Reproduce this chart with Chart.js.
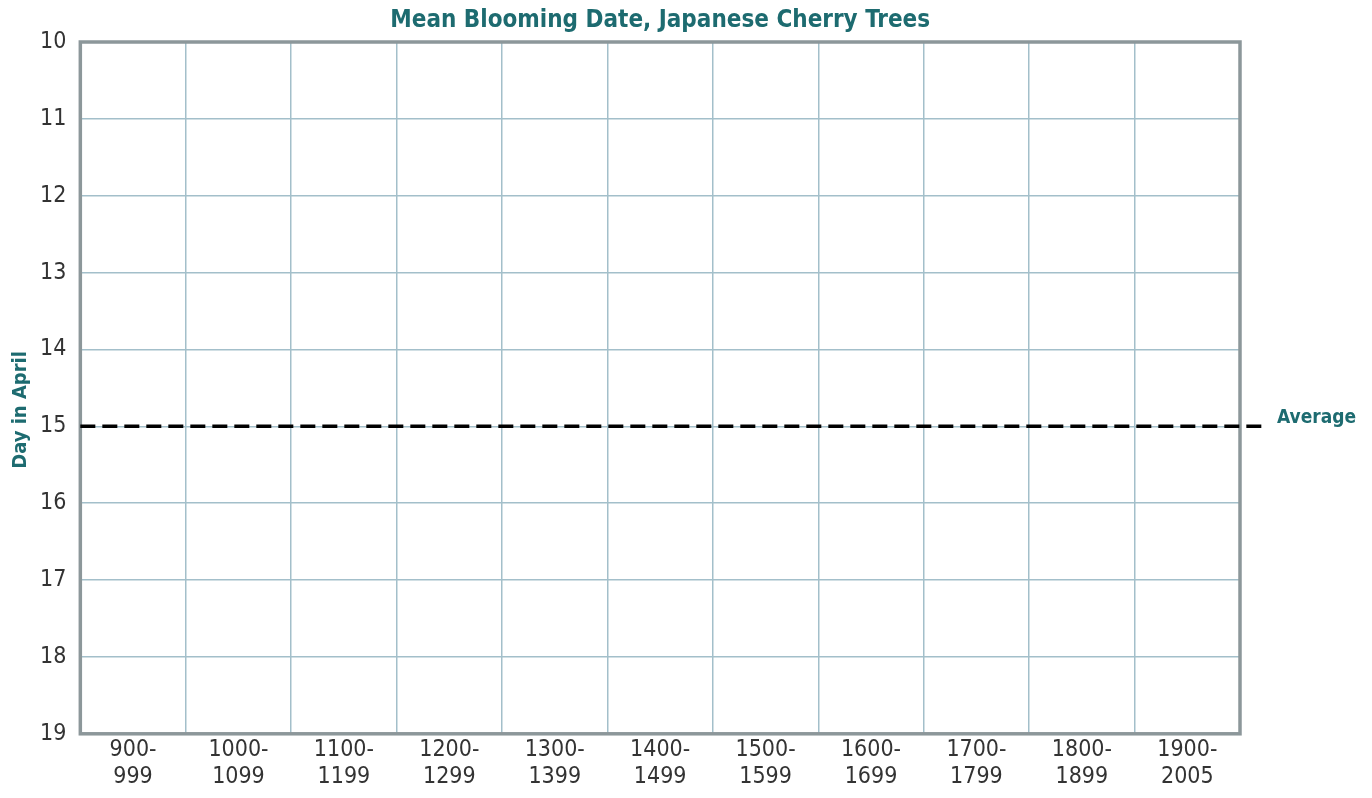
<!DOCTYPE html>
<html lang="en">
<head>
  <meta charset="UTF-8" />
  <title>Mean Blooming Date, Japanese Cherry Trees</title>
  <script src="https://cdn.jsdelivr.net/npm/chart.js"></script>
  <style>
    body, html {
      margin: 0;
      padding: 0;
      background: #fff;
    }
    .chart-box {
      width: 1372px;
      height: 798px;
    }
  </style>
</head>
<body>
  <div class="chart-box">
    <canvas id="bloomChart" width="1372" height="798"></canvas>
  </div>

  <script>
    // Century bands (two-line labels)
    const periods = [
      ['900-', '999'], ['1000-', '1099'], ['1100-', '1199'], ['1200-', '1299'],
      ['1300-', '1399'], ['1400-', '1499'], ['1500-', '1599'], ['1600-', '1699'],
      ['1700-', '1799'], ['1800-', '1899'], ['1900-', '2005']
    ];
    // Mean blooming day per period (no values plotted in the reference)
    const meanDay = [null, null, null, null, null, null, null, null, null, null, null];
    const averageDay = 15;
    const yMin = 10;
    const yMax = 19;

    const chartTitle = 'Mean Blooming Date, Japanese Cherry Trees';
    const yTitle = 'Day in April';
    const teal = '#1d6b70';
    const fontFamily = "'Liberation Sans Narrow', 'DejaVu Sans Condensed', 'Roboto', sans-serif";

    // Titles, border round the plot, dashed average line with its label
    const decorPlugin = {
      id: 'decor',
      afterDraw(chart) {
        const { ctx, chartArea, scales } = chart;
        const midX = (chartArea.left + chartArea.right) / 2;
        const midY = (chartArea.top + chartArea.bottom) / 2;
        ctx.save();

        // chart title centred over the plot
        ctx.fillStyle = teal;
        ctx.font = "bold 24px " + fontFamily;
        ctx.textAlign = 'center';
        ctx.textBaseline = 'middle';
        ctx.fillText(chartTitle, midX, 21);

        // y axis title
        ctx.save();
        ctx.translate(21, midY + 22);
        ctx.rotate(-Math.PI / 2);
        ctx.font = "bold 20px " + fontFamily;
        ctx.fillText(yTitle, 0, 0);
        ctx.restore();

        ctx.strokeStyle = '#8c979a';
        ctx.lineWidth = 3.5;
        ctx.strokeRect(chartArea.left, chartArea.top, chartArea.right - chartArea.left, chartArea.bottom - chartArea.top);

        const y = scales.y.getPixelForValue(averageDay);
        ctx.strokeStyle = '#000';
        ctx.lineWidth = 3.5;
        ctx.setLineDash([15, 7]);
        ctx.beginPath();
        ctx.moveTo(chartArea.left, y);
        ctx.lineTo(chartArea.right + 28, y);
        ctx.stroke();
        ctx.setLineDash([]);

        ctx.fillStyle = teal;
        ctx.font = "bold 19px " + fontFamily;
        ctx.textAlign = 'left';
        ctx.fillText('Average', chartArea.right + 37, y - 8);
        ctx.restore();
      }
    };

    new Chart(document.getElementById('bloomChart'), {
      type: 'line',
      data: {
        labels: periods,
        datasets: [{
          label: 'Mean blooming day',
          data: meanDay,
          borderColor: '#7a8fd0',
          pointRadius: 0
        }]
      },
      options: {
        responsive: false,
        animation: false,
        layout: {
          padding: { left: 26, right: 132, top: 42, bottom: 5 }
        },
        plugins: {
          legend: { display: false },
          tooltip: { enabled: false },
          title: { display: false }
        },
        scales: {
          x: {
            offset: true,
            grid: {
              offset: true,
              color: '#a3bfca',
              lineWidth: 1.5,
              drawTicks: false
            },
            border: { display: false },
            ticks: {
              color: '#333',
              padding: 2,
              maxRotation: 0,
              autoSkip: false,
              font: { family: fontFamily, size: 23, lineHeight: 1.2 }
            }
          },
          y: {
            reverse: true,
            min: yMin,
            max: yMax,
            grid: {
              color: '#a3bfca',
              lineWidth: 1.5,
              drawTicks: false
            },
            border: { display: false },
            ticks: {
              stepSize: 1,
              color: '#333',
              padding: 14,
              font: { family: fontFamily, size: 23 }
            }
          }
        }
      },
      plugins: [decorPlugin]
    });
  </script>
</body>
</html>
